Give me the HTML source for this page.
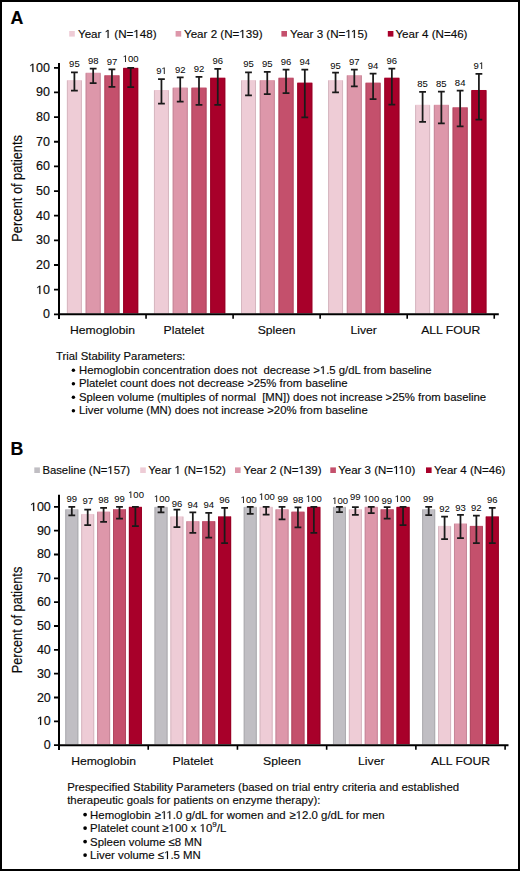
<!DOCTYPE html>
<html><head><meta charset="utf-8"><style>
html,body{margin:0;padding:0;background:#fff;}
.fr{position:absolute;left:0;top:0;width:516px;height:867px;border:2px solid #000;background:#fff;}
svg{position:absolute;left:0;top:0;}
text{font-family:"Liberation Sans", sans-serif;fill:#0a0a0a;stroke:#0a0a0a;stroke-width:0.15px;}
.p{font-size:17.8px;font-weight:bold;fill:#000;}
.l{font-size:11.6px;}
.v{font-size:9.5px;text-anchor:middle;stroke-width:0.05px;}
.t{font-size:11.9px;text-anchor:end;}
.c{font-size:11.6px;text-anchor:middle;}
.yt{font-size:12.8px;text-anchor:middle;}
.d{font-size:11.33px;}
.d2{font-size:11.4px;}
.o{fill-opacity:0;stroke-opacity:0;}
</style></head><body>
<div class="fr"></div>
<svg width="520" height="871" viewBox="0 0 520 871">
<text x="10.5" y="23.6" class="p">A</text>
<rect x="69.2" y="31" width="5.6" height="5.6" fill="#eeccd6"/>
<text x="78" y="37.8" class="l">Year <tspan class="o">1</tspan> (N=<tspan class="o">1</tspan>48)</text>
<rect x="175.6" y="31" width="5.6" height="5.6" fill="#dd97aa"/>
<text x="184" y="37.8" class="l">Year 2 (N=<tspan class="o">1</tspan>39)</text>
<rect x="281.4" y="31" width="5.6" height="5.6" fill="#c4506c"/>
<text x="290" y="37.8" class="l">Year 3 (N=<tspan class="o">1</tspan><tspan class="o">1</tspan>5)</text>
<rect x="387.8" y="31" width="5.6" height="5.6" fill="#a8002a"/>
<text x="395.4" y="37.8" class="l">Year 4 (N=46)</text>
<rect x="66.9" y="80.13" width="15" height="233.17" fill="#eeccd6"/>
<path d="M67.4 80.63V313.3M81.4 80.63V313.3" stroke="#d6b7c0" stroke-width="1" fill="none"/>
<rect x="85.67" y="72.73" width="15" height="240.57" fill="#dd97aa"/>
<path d="M86.17 73.23V313.3M100.17 73.23V313.3" stroke="#c68799" stroke-width="1" fill="none"/>
<rect x="104.44" y="75.2" width="15" height="238.1" fill="#c4506c"/>
<path d="M104.94 75.7V313.3M118.94 75.7V313.3" stroke="#b04861" stroke-width="1" fill="none"/>
<rect x="123.21" y="67.8" width="15" height="245.5" fill="#a8002a"/>
<path d="M123.71 68.3V313.3M137.71 68.3V313.3" stroke="#970025" stroke-width="1" fill="none"/>
<rect x="153.95" y="89.99" width="15" height="223.31" fill="#eeccd6"/>
<path d="M154.45 90.49V313.3M168.45 90.49V313.3" stroke="#d6b7c0" stroke-width="1" fill="none"/>
<rect x="172.72" y="87.52" width="15" height="225.78" fill="#dd97aa"/>
<path d="M173.22 88.02V313.3M187.22 88.02V313.3" stroke="#c68799" stroke-width="1" fill="none"/>
<rect x="191.49" y="87.52" width="15" height="225.78" fill="#c4506c"/>
<path d="M191.99 88.02V313.3M205.99 88.02V313.3" stroke="#b04861" stroke-width="1" fill="none"/>
<rect x="210.26" y="77.66" width="15" height="235.64" fill="#a8002a"/>
<path d="M210.76 78.16V313.3M224.76 78.16V313.3" stroke="#970025" stroke-width="1" fill="none"/>
<rect x="241" y="80.13" width="15" height="233.17" fill="#eeccd6"/>
<path d="M241.5 80.63V313.3M255.5 80.63V313.3" stroke="#d6b7c0" stroke-width="1" fill="none"/>
<rect x="259.77" y="80.13" width="15" height="233.17" fill="#dd97aa"/>
<path d="M260.27 80.63V313.3M274.27 80.63V313.3" stroke="#c68799" stroke-width="1" fill="none"/>
<rect x="278.54" y="77.66" width="15" height="235.64" fill="#c4506c"/>
<path d="M279.04 78.16V313.3M293.04 78.16V313.3" stroke="#b04861" stroke-width="1" fill="none"/>
<rect x="297.31" y="82.59" width="15" height="230.71" fill="#a8002a"/>
<path d="M297.81 83.09V313.3M311.81 83.09V313.3" stroke="#970025" stroke-width="1" fill="none"/>
<rect x="328.05" y="80.13" width="15" height="233.17" fill="#eeccd6"/>
<path d="M328.55 80.63V313.3M342.55 80.63V313.3" stroke="#d6b7c0" stroke-width="1" fill="none"/>
<rect x="346.82" y="75.2" width="15" height="238.1" fill="#dd97aa"/>
<path d="M347.32 75.7V313.3M361.32 75.7V313.3" stroke="#c68799" stroke-width="1" fill="none"/>
<rect x="365.59" y="82.59" width="15" height="230.71" fill="#c4506c"/>
<path d="M366.09 83.09V313.3M380.09 83.09V313.3" stroke="#b04861" stroke-width="1" fill="none"/>
<rect x="384.36" y="77.66" width="15" height="235.64" fill="#a8002a"/>
<path d="M384.86 78.16V313.3M398.86 78.16V313.3" stroke="#970025" stroke-width="1" fill="none"/>
<rect x="415.1" y="104.78" width="15" height="208.52" fill="#eeccd6"/>
<path d="M415.6 105.28V313.3M429.6 105.28V313.3" stroke="#d6b7c0" stroke-width="1" fill="none"/>
<rect x="433.87" y="104.78" width="15" height="208.52" fill="#dd97aa"/>
<path d="M434.37 105.28V313.3M448.37 105.28V313.3" stroke="#c68799" stroke-width="1" fill="none"/>
<rect x="452.64" y="107.24" width="15" height="206.06" fill="#c4506c"/>
<path d="M453.14 107.74V313.3M467.14 107.74V313.3" stroke="#b04861" stroke-width="1" fill="none"/>
<rect x="471.41" y="89.99" width="15" height="223.31" fill="#a8002a"/>
<path d="M471.91 90.49V313.3M485.91 90.49V313.3" stroke="#970025" stroke-width="1" fill="none"/>
<path d="M74.4 72.48V90.72M71 72.48H77.8M71 90.72H77.8" stroke="#1a1a1a" stroke-width="1.75" fill="none"/>
<text x="74.4" y="67.2" class="v">95</text>
<path d="M93.17 68.54V83.08M89.77 68.54H96.57M89.77 83.08H96.57" stroke="#1a1a1a" stroke-width="1.75" fill="none"/>
<text x="93.17" y="63.9" class="v">98</text>
<path d="M111.94 69.28V86.78M108.54 69.28H115.34M108.54 86.78H115.34" stroke="#1a1a1a" stroke-width="1.75" fill="none"/>
<text x="111.94" y="64.7" class="v">97</text>
<path d="M130.71 67.8V87.03M127.31 67.8H134.11M127.31 87.03H134.11" stroke="#1a1a1a" stroke-width="1.75" fill="none"/>
<text x="130.71" y="62.2" class="v"><tspan class="o">1</tspan>00</text>
<path d="M161.45 79.14V103.54M158.05 79.14H164.85M158.05 103.54H164.85" stroke="#1a1a1a" stroke-width="1.75" fill="none"/>
<text x="161.45" y="73.8" class="v">9<tspan class="o">1</tspan></text>
<path d="M180.22 77.41V101.57M176.82 77.41H183.62M176.82 101.57H183.62" stroke="#1a1a1a" stroke-width="1.75" fill="none"/>
<text x="180.22" y="72.7" class="v">92</text>
<path d="M198.99 76.92V104.78M195.59 76.92H202.39M195.59 104.78H202.39" stroke="#1a1a1a" stroke-width="1.75" fill="none"/>
<text x="198.99" y="72.2" class="v">92</text>
<path d="M217.76 68.79V104.78M214.36 68.79H221.16M214.36 104.78H221.16" stroke="#1a1a1a" stroke-width="1.75" fill="none"/>
<text x="217.76" y="63.6" class="v">96</text>
<path d="M248.5 72.48V95.41M245.1 72.48H251.9M245.1 95.41H251.9" stroke="#1a1a1a" stroke-width="1.75" fill="none"/>
<text x="248.5" y="67.2" class="v">95</text>
<path d="M267.27 71.99V94.18M263.87 71.99H270.67M263.87 94.18H270.67" stroke="#1a1a1a" stroke-width="1.75" fill="none"/>
<text x="267.27" y="67.2" class="v">95</text>
<path d="M286.04 69.53V93.19M282.64 69.53H289.44M282.64 93.19H289.44" stroke="#1a1a1a" stroke-width="1.75" fill="none"/>
<text x="286.04" y="64.9" class="v">96</text>
<path d="M304.81 69.53V117.35M301.41 69.53H308.21M301.41 117.35H308.21" stroke="#1a1a1a" stroke-width="1.75" fill="none"/>
<text x="304.81" y="64.7" class="v">94</text>
<path d="M335.55 72.73V92.45M332.15 72.73H338.95M332.15 92.45H338.95" stroke="#1a1a1a" stroke-width="1.75" fill="none"/>
<text x="335.55" y="68.5" class="v">95</text>
<path d="M354.32 69.53V86.29M350.92 69.53H357.72M350.92 86.29H357.72" stroke="#1a1a1a" stroke-width="1.75" fill="none"/>
<text x="354.32" y="64.9" class="v">97</text>
<path d="M373.09 73.72V99.11M369.69 73.72H376.49M369.69 99.11H376.49" stroke="#1a1a1a" stroke-width="1.75" fill="none"/>
<text x="373.09" y="69.4" class="v">94</text>
<path d="M391.86 68.54V104.53M388.46 68.54H395.26M388.46 104.53H395.26" stroke="#1a1a1a" stroke-width="1.75" fill="none"/>
<text x="391.86" y="63.9" class="v">96</text>
<path d="M422.6 91.96V121.78M419.2 91.96H426M419.2 121.78H426" stroke="#1a1a1a" stroke-width="1.75" fill="none"/>
<text x="422.6" y="86.8" class="v">85</text>
<path d="M441.37 91.71V123.26M437.97 91.71H444.77M437.97 123.26H444.77" stroke="#1a1a1a" stroke-width="1.75" fill="none"/>
<text x="441.37" y="86.8" class="v">85</text>
<path d="M460.14 90.72V126.47M456.74 90.72H463.54M456.74 126.47H463.54" stroke="#1a1a1a" stroke-width="1.75" fill="none"/>
<text x="460.14" y="86" class="v">84</text>
<path d="M478.91 73.96V119.57M475.51 73.96H482.31M475.51 119.57H482.31" stroke="#1a1a1a" stroke-width="1.75" fill="none"/>
<text x="478.91" y="69.1" class="v">9<tspan class="o">1</tspan></text>
<path d="M59 63.1V319.1" stroke="#000" stroke-width="2" fill="none"/>
<path d="M58 314.3H498.8" stroke="#000" stroke-width="2" fill="none"/>
<path d="M54 314.3H59M54 289.65H59M54 265H59M54 240.35H59M54 215.7H59M54 191.05H59M54 166.4H59M54 141.75H59M54 117.1H59M54 92.45H59M54 67.8H59" stroke="#000" stroke-width="1.8" fill="none"/>
<path d="M146.05 314.3V318.8M233.1 314.3V318.8M320.15 314.3V318.8M407.2 314.3V318.8M494.25 314.3V318.8" stroke="#000" stroke-width="1.6" fill="none"/>
<text transform="translate(50 318.3) scale(1.05 1)" class="t">0</text>
<text transform="translate(50 293.65) scale(1.05 1)" class="t"><tspan class="o">1</tspan>0</text>
<text transform="translate(50 269) scale(1.05 1)" class="t">20</text>
<text transform="translate(50 244.35) scale(1.05 1)" class="t">30</text>
<text transform="translate(50 219.7) scale(1.05 1)" class="t">40</text>
<text transform="translate(50 195.05) scale(1.05 1)" class="t">50</text>
<text transform="translate(50 170.4) scale(1.05 1)" class="t">60</text>
<text transform="translate(50 145.75) scale(1.05 1)" class="t">70</text>
<text transform="translate(50 121.1) scale(1.05 1)" class="t">80</text>
<text transform="translate(50 96.45) scale(1.05 1)" class="t">90</text>
<text transform="translate(50 71.8) scale(1.05 1)" class="t"><tspan class="o">1</tspan>00</text>
<text transform="translate(102.53 333.8) scale(1.05 1)" class="c">Hemoglobin</text>
<text transform="translate(183.88 333.8) scale(1.05 1)" class="c">Platelet</text>
<text transform="translate(276.62 333.8) scale(1.05 1)" class="c">Spleen</text>
<text transform="translate(363.68 333.8) scale(1.05 1)" class="c">Liver</text>
<text transform="translate(450.72 333.8) scale(1.05 1)" class="c">ALL FOUR</text>
<text transform="translate(21.6 188.4) rotate(-90) scale(1 1.1)" class="yt">Percent of patients</text>
<text x="10.5" y="455.4" class="p">B</text>
<rect x="34.3" y="467.4" width="5.6" height="5.6" fill="#c0bec3"/>
<text x="42.4" y="474.1" class="l" style="font-size:11.3px">Baseline (N=<tspan class="o">1</tspan>57)</text>
<rect x="140.2" y="467.4" width="5.6" height="5.6" fill="#eeccd6"/>
<text x="148.2" y="474.1" class="l" style="font-size:11.45px">Year <tspan class="o">1</tspan> (N=<tspan class="o">1</tspan>52)</text>
<rect x="235" y="467.4" width="5.6" height="5.6" fill="#dd97aa"/>
<text x="243.6" y="474.1" class="l" style="font-size:11.5px">Year 2 (N=<tspan class="o">1</tspan>39)</text>
<rect x="330.3" y="467.4" width="5.6" height="5.6" fill="#c4506c"/>
<text x="338.2" y="474.1" class="l" style="font-size:11.5px">Year 3 (N=<tspan class="o">1</tspan><tspan class="o">1</tspan>0)</text>
<rect x="426" y="467.4" width="5.6" height="5.6" fill="#a8002a"/>
<text x="433.9" y="474.1" class="l" style="font-size:11.5px">Year 4 (N=46)</text>
<rect x="65.3" y="509.18" width="13" height="235.02" fill="#c0bec3"/>
<path d="M65.8 509.68V744.2M77.8 509.68V744.2" stroke="#acabaf" stroke-width="1" fill="none"/>
<rect x="81.2" y="513.95" width="13" height="230.25" fill="#eeccd6"/>
<path d="M81.7 514.45V744.2M93.7 514.45V744.2" stroke="#d6b7c0" stroke-width="1" fill="none"/>
<rect x="97.1" y="511.57" width="13" height="232.63" fill="#dd97aa"/>
<path d="M97.6 512.07V744.2M109.6 512.07V744.2" stroke="#c68799" stroke-width="1" fill="none"/>
<rect x="113" y="509.18" width="13" height="235.02" fill="#c4506c"/>
<path d="M113.5 509.68V744.2M125.5 509.68V744.2" stroke="#b04861" stroke-width="1" fill="none"/>
<rect x="128.9" y="506.8" width="13" height="237.4" fill="#a8002a"/>
<path d="M129.4 507.3V744.2M141.4 507.3V744.2" stroke="#970025" stroke-width="1" fill="none"/>
<rect x="154.52" y="506.8" width="13" height="237.4" fill="#c0bec3"/>
<path d="M155.02 507.3V744.2M167.02 507.3V744.2" stroke="#acabaf" stroke-width="1" fill="none"/>
<rect x="170.42" y="516.34" width="13" height="227.86" fill="#eeccd6"/>
<path d="M170.92 516.84V744.2M182.92 516.84V744.2" stroke="#d6b7c0" stroke-width="1" fill="none"/>
<rect x="186.32" y="521.1" width="13" height="223.1" fill="#dd97aa"/>
<path d="M186.82 521.6V744.2M198.82 521.6V744.2" stroke="#c68799" stroke-width="1" fill="none"/>
<rect x="202.22" y="521.1" width="13" height="223.1" fill="#c4506c"/>
<path d="M202.72 521.6V744.2M214.72 521.6V744.2" stroke="#b04861" stroke-width="1" fill="none"/>
<rect x="218.12" y="516.34" width="13" height="227.86" fill="#a8002a"/>
<path d="M218.62 516.84V744.2M230.62 516.84V744.2" stroke="#970025" stroke-width="1" fill="none"/>
<rect x="243.74" y="506.8" width="13" height="237.4" fill="#c0bec3"/>
<path d="M244.24 507.3V744.2M256.24 507.3V744.2" stroke="#acabaf" stroke-width="1" fill="none"/>
<rect x="259.64" y="506.8" width="13" height="237.4" fill="#eeccd6"/>
<path d="M260.14 507.3V744.2M272.14 507.3V744.2" stroke="#d6b7c0" stroke-width="1" fill="none"/>
<rect x="275.54" y="509.18" width="13" height="235.02" fill="#dd97aa"/>
<path d="M276.04 509.68V744.2M288.04 509.68V744.2" stroke="#c68799" stroke-width="1" fill="none"/>
<rect x="291.44" y="511.57" width="13" height="232.63" fill="#c4506c"/>
<path d="M291.94 512.07V744.2M303.94 512.07V744.2" stroke="#b04861" stroke-width="1" fill="none"/>
<rect x="307.34" y="506.8" width="13" height="237.4" fill="#a8002a"/>
<path d="M307.84 507.3V744.2M319.84 507.3V744.2" stroke="#970025" stroke-width="1" fill="none"/>
<rect x="332.96" y="506.8" width="13" height="237.4" fill="#c0bec3"/>
<path d="M333.46 507.3V744.2M345.46 507.3V744.2" stroke="#acabaf" stroke-width="1" fill="none"/>
<rect x="348.86" y="509.18" width="13" height="235.02" fill="#eeccd6"/>
<path d="M349.36 509.68V744.2M361.36 509.68V744.2" stroke="#d6b7c0" stroke-width="1" fill="none"/>
<rect x="364.76" y="506.8" width="13" height="237.4" fill="#dd97aa"/>
<path d="M365.26 507.3V744.2M377.26 507.3V744.2" stroke="#c68799" stroke-width="1" fill="none"/>
<rect x="380.66" y="509.18" width="13" height="235.02" fill="#c4506c"/>
<path d="M381.16 509.68V744.2M393.16 509.68V744.2" stroke="#b04861" stroke-width="1" fill="none"/>
<rect x="396.56" y="506.8" width="13" height="237.4" fill="#a8002a"/>
<path d="M397.06 507.3V744.2M409.06 507.3V744.2" stroke="#970025" stroke-width="1" fill="none"/>
<rect x="422.18" y="509.18" width="13" height="235.02" fill="#c0bec3"/>
<path d="M422.68 509.68V744.2M434.68 509.68V744.2" stroke="#acabaf" stroke-width="1" fill="none"/>
<rect x="438.08" y="525.87" width="13" height="218.33" fill="#eeccd6"/>
<path d="M438.58 526.37V744.2M450.58 526.37V744.2" stroke="#d6b7c0" stroke-width="1" fill="none"/>
<rect x="453.98" y="523.49" width="13" height="220.71" fill="#dd97aa"/>
<path d="M454.48 523.99V744.2M466.48 523.99V744.2" stroke="#c68799" stroke-width="1" fill="none"/>
<rect x="469.88" y="525.87" width="13" height="218.33" fill="#c4506c"/>
<path d="M470.38 526.37V744.2M482.38 526.37V744.2" stroke="#b04861" stroke-width="1" fill="none"/>
<rect x="485.78" y="516.34" width="13" height="227.86" fill="#a8002a"/>
<path d="M486.28 516.84V744.2M498.28 516.84V744.2" stroke="#970025" stroke-width="1" fill="none"/>
<path d="M71.8 506.8V515.38M68.4 506.8H75.2M68.4 515.38H75.2" stroke="#1a1a1a" stroke-width="1.75" fill="none"/>
<text x="71.8" y="502" class="v">99</text>
<path d="M87.7 509.66V525.16M84.3 509.66H91.1M84.3 525.16H91.1" stroke="#1a1a1a" stroke-width="1.75" fill="none"/>
<text x="87.7" y="504.2" class="v">97</text>
<path d="M103.6 507.75V521.82M100.2 507.75H107M100.2 521.82H107" stroke="#1a1a1a" stroke-width="1.75" fill="none"/>
<text x="103.6" y="502.5" class="v">98</text>
<path d="M119.5 506.8V518.72M116.1 506.8H122.9M116.1 518.72H122.9" stroke="#1a1a1a" stroke-width="1.75" fill="none"/>
<text x="119.5" y="502" class="v">99</text>
<path d="M135.4 506.8V526.11M132 506.8H138.8M132 526.11H138.8" stroke="#1a1a1a" stroke-width="1.75" fill="none"/>
<text x="136" y="498.2" class="v"><tspan class="o">1</tspan>00</text>
<path d="M161.02 506.8V512.28M157.62 506.8H164.42M157.62 512.28H164.42" stroke="#1a1a1a" stroke-width="1.75" fill="none"/>
<text x="161.82" y="501.6" class="v"><tspan class="o">1</tspan>00</text>
<path d="M176.92 509.66V527.06M173.52 509.66H180.32M173.52 527.06H180.32" stroke="#1a1a1a" stroke-width="1.75" fill="none"/>
<text x="176.92" y="506.5" class="v">96</text>
<path d="M192.82 512.28V532.79M189.42 512.28H196.22M189.42 532.79H196.22" stroke="#1a1a1a" stroke-width="1.75" fill="none"/>
<text x="192.82" y="507.8" class="v">94</text>
<path d="M208.72 512.76V537.55M205.32 512.76H212.12M205.32 537.55H212.12" stroke="#1a1a1a" stroke-width="1.75" fill="none"/>
<text x="208.72" y="507.5" class="v">94</text>
<path d="M224.62 507.99V543.04M221.22 507.99H228.02M221.22 543.04H228.02" stroke="#1a1a1a" stroke-width="1.75" fill="none"/>
<text x="224.62" y="503.2" class="v">96</text>
<path d="M250.24 506.8V513.95M246.84 506.8H253.64M246.84 513.95H253.64" stroke="#1a1a1a" stroke-width="1.75" fill="none"/>
<text x="248.54" y="503.2" class="v"><tspan class="o">1</tspan>00</text>
<path d="M266.14 506.8V514.67M262.74 506.8H269.54M262.74 514.67H269.54" stroke="#1a1a1a" stroke-width="1.75" fill="none"/>
<text x="266.84" y="500.4" class="v"><tspan class="o">1</tspan>00</text>
<path d="M282.04 506.8V519.44M278.64 506.8H285.44M278.64 519.44H285.44" stroke="#1a1a1a" stroke-width="1.75" fill="none"/>
<text x="282.84" y="502" class="v">99</text>
<path d="M297.94 507.28V527.3M294.54 507.28H301.34M294.54 527.3H301.34" stroke="#1a1a1a" stroke-width="1.75" fill="none"/>
<text x="297.94" y="502.5" class="v">98</text>
<path d="M313.84 506.8V532.79M310.44 506.8H317.24M310.44 532.79H317.24" stroke="#1a1a1a" stroke-width="1.75" fill="none"/>
<text x="313.84" y="501.6" class="v"><tspan class="o">1</tspan>00</text>
<path d="M339.46 506.8V512.04M336.06 506.8H342.86M336.06 512.04H342.86" stroke="#1a1a1a" stroke-width="1.75" fill="none"/>
<text x="340.06" y="503.7" class="v"><tspan class="o">1</tspan>00</text>
<path d="M355.36 507.04V514.91M351.96 507.04H358.76M351.96 514.91H358.76" stroke="#1a1a1a" stroke-width="1.75" fill="none"/>
<text x="355.36" y="499.6" class="v">99</text>
<path d="M371.26 506.8V513M367.86 506.8H374.66M367.86 513H374.66" stroke="#1a1a1a" stroke-width="1.75" fill="none"/>
<text x="371.26" y="501.6" class="v"><tspan class="o">1</tspan>00</text>
<path d="M387.16 507.04V518.72M383.76 507.04H390.56M383.76 518.72H390.56" stroke="#1a1a1a" stroke-width="1.75" fill="none"/>
<text x="386.76" y="504.2" class="v">99</text>
<path d="M403.06 506.8V525.16M399.66 506.8H406.46M399.66 525.16H406.46" stroke="#1a1a1a" stroke-width="1.75" fill="none"/>
<text x="402.66" y="501.6" class="v"><tspan class="o">1</tspan>00</text>
<path d="M428.68 506.8V515.14M425.28 506.8H432.08M425.28 515.14H432.08" stroke="#1a1a1a" stroke-width="1.75" fill="none"/>
<text x="428.18" y="501.8" class="v">99</text>
<path d="M444.58 516.57V539.22M441.18 516.57H447.98M441.18 539.22H447.98" stroke="#1a1a1a" stroke-width="1.75" fill="none"/>
<text x="444.58" y="511.6" class="v">92</text>
<path d="M460.48 514.91V538.03M457.08 514.91H463.88M457.08 538.03H463.88" stroke="#1a1a1a" stroke-width="1.75" fill="none"/>
<text x="460.48" y="510.5" class="v">93</text>
<path d="M476.38 515.62V543.04M472.98 515.62H479.78M472.98 543.04H479.78" stroke="#1a1a1a" stroke-width="1.75" fill="none"/>
<text x="476.38" y="511.1" class="v">92</text>
<path d="M492.28 507.99V543.04M488.88 507.99H495.68M488.88 543.04H495.68" stroke="#1a1a1a" stroke-width="1.75" fill="none"/>
<text x="492.28" y="503.1" class="v">96</text>
<path d="M59 494.8V750" stroke="#000" stroke-width="2" fill="none"/>
<path d="M58 745.2H508.5" stroke="#000" stroke-width="2" fill="none"/>
<path d="M54 745.2H59M54 721.36H59M54 697.52H59M54 673.68H59M54 649.84H59M54 626H59M54 602.16H59M54 578.32H59M54 554.48H59M54 530.64H59M54 506.8H59" stroke="#000" stroke-width="1.8" fill="none"/>
<path d="M148.22 745.2V749.7M237.44 745.2V749.7M326.66 745.2V749.7M415.88 745.2V749.7M505.1 745.2V749.7" stroke="#000" stroke-width="1.6" fill="none"/>
<text transform="translate(50.8 749.2) scale(1.05 1)" class="t">0</text>
<text transform="translate(50.8 725.36) scale(1.05 1)" class="t"><tspan class="o">1</tspan>0</text>
<text transform="translate(50.8 701.52) scale(1.05 1)" class="t">20</text>
<text transform="translate(50.8 677.68) scale(1.05 1)" class="t">30</text>
<text transform="translate(50.8 653.84) scale(1.05 1)" class="t">40</text>
<text transform="translate(50.8 630) scale(1.05 1)" class="t">50</text>
<text transform="translate(50.8 606.16) scale(1.05 1)" class="t">60</text>
<text transform="translate(50.8 582.32) scale(1.05 1)" class="t">70</text>
<text transform="translate(50.8 558.48) scale(1.05 1)" class="t">80</text>
<text transform="translate(50.8 534.64) scale(1.05 1)" class="t">90</text>
<text transform="translate(50.8 510.8) scale(1.05 1)" class="t"><tspan class="o">1</tspan>00</text>
<text transform="translate(103.61 764.9) scale(1.05 1)" class="c">Hemoglobin</text>
<text transform="translate(192.83 764.9) scale(1.05 1)" class="c">Platelet</text>
<text transform="translate(282.05 764.9) scale(1.05 1)" class="c">Spleen</text>
<text transform="translate(371.27 764.9) scale(1.05 1)" class="c">Liver</text>
<text transform="translate(460.49 764.9) scale(1.05 1)" class="c">ALL FOUR</text>
<text transform="translate(21.6 620) rotate(-90) scale(1 1.1)" class="yt">Percent of patients</text>
<text x="56" y="360.4" class="d">Trial Stability Parameters:</text>
<circle cx="73.4" cy="370.35" r="1.75" fill="#000"/>
<text x="79" y="373.85" class="d">Hemoglobin concentration does not&#160; decrease &gt;<tspan class="o">1</tspan>.5 g/dL from baseline</text>
<circle cx="73.4" cy="383.8" r="1.75" fill="#000"/>
<text x="79" y="387.3" class="d">Platelet count does not decrease &gt;25% from baseline</text>
<circle cx="73.4" cy="397.25" r="1.75" fill="#000"/>
<text x="79" y="400.75" class="d">Spleen volume (multiples of normal&#160; [MN]) does not increase &gt;25% from baseline</text>
<circle cx="73.4" cy="410.7" r="1.75" fill="#000"/>
<text x="79" y="414.2" class="d">Liver volume (MN) does not increase &gt;20% from baseline</text>
<text x="67.2" y="790.9" class="d d2">Prespecified Stability Parameters (based on trial entry criteria and established</text>
<text x="67.2" y="804.4" class="d d2">therapeutic goals for patients on enzyme therapy):</text>
<circle cx="85.1" cy="814.6" r="1.85" fill="#000"/>
<text x="90.1" y="818.5" class="d d2">Hemoglobin <tspan dx="0.6">&#8805;</tspan><tspan class="o">1</tspan><tspan class="o">1</tspan>.0 g/dL for women and <tspan dx="0.6">&#8805;</tspan><tspan class="o">1</tspan>2.0 g/dL for men</text>
<circle cx="85.1" cy="828.1" r="1.85" fill="#000"/>
<text x="90.1" y="832" class="d d2">Platelet count &#8805;<tspan class="o">1</tspan>00 x <tspan class="o">1</tspan>0<tspan dy="-4.6" font-size="8px">9</tspan><tspan dy="4.6">/L</tspan></text>
<circle cx="85.1" cy="841.6" r="1.85" fill="#000"/>
<text x="90.1" y="845.5" class="d d2">Spleen volume &#8804;8 MN</text>
<circle cx="85.1" cy="855.1" r="1.85" fill="#000"/>
<text x="90.1" y="859" class="d d2">Liver volume &#8804;<tspan class="o">1</tspan>.5 MN</text>
<g fill="#0a0a0a" stroke="#0a0a0a"><path d="M515 0V1237L197 1010V1180L530 1409H696V0Z" transform="translate(104.656 38.000) scale(0.00566 -0.00566)" stroke-width="0.15" vector-effect="non-scaling-stroke"/><path d="M515 0V1237L197 1010V1180L530 1409H696V0Z" transform="translate(133.344 38.000) scale(0.00566 -0.00566)" stroke-width="0.15" vector-effect="non-scaling-stroke"/><path d="M515 0V1237L197 1010V1180L530 1409H696V0Z" transform="translate(239.328 38.000) scale(0.00566 -0.00566)" stroke-width="0.15" vector-effect="non-scaling-stroke"/><path d="M515 0V1237L197 1010V1180L530 1409H696V0Z" transform="translate(345.328 38.000) scale(0.00566 -0.00566)" stroke-width="0.15" vector-effect="non-scaling-stroke"/><path d="M515 0V1237L197 1010V1180L530 1409H696V0Z" transform="translate(350.922 38.000) scale(0.00566 -0.00566)" stroke-width="0.15" vector-effect="non-scaling-stroke"/><path d="M515 0V1237L197 1010V1180L530 1409H696V0Z" transform="translate(122.773 62.000) scale(0.00464 -0.00464)" stroke-width="0.05" vector-effect="non-scaling-stroke"/><path d="M515 0V1237L197 1010V1180L530 1409H696V0Z" transform="translate(161.450 74.000) scale(0.00464 -0.00464)" stroke-width="0.05" vector-effect="non-scaling-stroke"/><path d="M515 0V1237L197 1010V1180L530 1409H696V0Z" transform="translate(478.910 69.000) scale(0.00464 -0.00464)" stroke-width="0.05" vector-effect="non-scaling-stroke"/><path d="M515 0V1237L197 1010V1180L530 1409H696V0Z" transform="matrix(1.05000 0.00000 0.00000 1.00000 50.000 293.650) translate(-13.228 0.350) scale(0.00581 -0.00581)" stroke-width="0.15" vector-effect="non-scaling-stroke"/><path d="M515 0V1237L197 1010V1180L530 1409H696V0Z" transform="matrix(1.05000 0.00000 0.00000 1.00000 50.000 71.800) translate(-19.842 0.200) scale(0.00581 -0.00581)" stroke-width="0.15" vector-effect="non-scaling-stroke"/><path d="M515 0V1237L197 1010V1180L530 1409H696V0Z" transform="translate(107.400 474.000) scale(0.00552 -0.00552)" stroke-width="0.15" vector-effect="non-scaling-stroke"/><path d="M515 0V1237L197 1010V1180L530 1409H696V0Z" transform="translate(174.497 474.000) scale(0.00559 -0.00559)" stroke-width="0.15" vector-effect="non-scaling-stroke"/><path d="M515 0V1237L197 1010V1180L530 1409H696V0Z" transform="translate(202.809 474.000) scale(0.00559 -0.00559)" stroke-width="0.15" vector-effect="non-scaling-stroke"/><path d="M515 0V1237L197 1010V1180L530 1409H696V0Z" transform="translate(298.475 474.000) scale(0.00562 -0.00562)" stroke-width="0.15" vector-effect="non-scaling-stroke"/><path d="M515 0V1237L197 1010V1180L530 1409H696V0Z" transform="translate(393.075 474.000) scale(0.00562 -0.00562)" stroke-width="0.15" vector-effect="non-scaling-stroke"/><path d="M515 0V1237L197 1010V1180L530 1409H696V0Z" transform="translate(398.622 474.000) scale(0.00562 -0.00562)" stroke-width="0.15" vector-effect="non-scaling-stroke"/><path d="M515 0V1237L197 1010V1180L530 1409H696V0Z" transform="translate(128.062 498.000) scale(0.00464 -0.00464)" stroke-width="0.05" vector-effect="non-scaling-stroke"/><path d="M515 0V1237L197 1010V1180L530 1409H696V0Z" transform="translate(153.883 502.000) scale(0.00464 -0.00464)" stroke-width="0.05" vector-effect="non-scaling-stroke"/><path d="M515 0V1237L197 1010V1180L530 1409H696V0Z" transform="translate(240.603 503.000) scale(0.00464 -0.00464)" stroke-width="0.05" vector-effect="non-scaling-stroke"/><path d="M515 0V1237L197 1010V1180L530 1409H696V0Z" transform="translate(258.902 500.000) scale(0.00464 -0.00464)" stroke-width="0.05" vector-effect="non-scaling-stroke"/><path d="M515 0V1237L197 1010V1180L530 1409H696V0Z" transform="translate(305.902 502.000) scale(0.00464 -0.00464)" stroke-width="0.05" vector-effect="non-scaling-stroke"/><path d="M515 0V1237L197 1010V1180L530 1409H696V0Z" transform="translate(332.122 504.000) scale(0.00464 -0.00464)" stroke-width="0.05" vector-effect="non-scaling-stroke"/><path d="M515 0V1237L197 1010V1180L530 1409H696V0Z" transform="translate(363.323 502.000) scale(0.00464 -0.00464)" stroke-width="0.05" vector-effect="non-scaling-stroke"/><path d="M515 0V1237L197 1010V1180L530 1409H696V0Z" transform="translate(394.723 502.000) scale(0.00464 -0.00464)" stroke-width="0.05" vector-effect="non-scaling-stroke"/><path d="M515 0V1237L197 1010V1180L530 1409H696V0Z" transform="matrix(1.05000 0.00000 0.00000 1.00000 50.800 725.360) translate(-13.228 -0.360) scale(0.00581 -0.00581)" stroke-width="0.15" vector-effect="non-scaling-stroke"/><path d="M515 0V1237L197 1010V1180L530 1409H696V0Z" transform="matrix(1.05000 0.00000 0.00000 1.00000 50.800 510.800) translate(-19.842 0.200) scale(0.00581 -0.00581)" stroke-width="0.15" vector-effect="non-scaling-stroke"/><path d="M515 0V1237L197 1010V1180L530 1409H696V0Z" transform="translate(319.891 374.000) scale(0.00553 -0.00553)" stroke-width="0.15" vector-effect="non-scaling-stroke"/><path d="M515 0V1237L197 1010V1180L530 1409H696V0Z" transform="translate(160.919 819.000) scale(0.00557 -0.00557)" stroke-width="0.15" vector-effect="non-scaling-stroke"/><path d="M515 0V1237L197 1010V1180L530 1409H696V0Z" transform="translate(166.419 819.000) scale(0.00557 -0.00557)" stroke-width="0.15" vector-effect="non-scaling-stroke"/><path d="M515 0V1237L197 1010V1180L530 1409H696V0Z" transform="translate(295.722 819.000) scale(0.00557 -0.00557)" stroke-width="0.15" vector-effect="non-scaling-stroke"/><path d="M515 0V1237L197 1010V1180L530 1409H696V0Z" transform="translate(168.553 832.000) scale(0.00557 -0.00557)" stroke-width="0.15" vector-effect="non-scaling-stroke"/><path d="M515 0V1237L197 1010V1180L530 1409H696V0Z" transform="translate(199.600 832.000) scale(0.00557 -0.00557)" stroke-width="0.15" vector-effect="non-scaling-stroke"/><path d="M515 0V1237L197 1010V1180L530 1409H696V0Z" transform="translate(164.100 859.000) scale(0.00557 -0.00557)" stroke-width="0.15" vector-effect="non-scaling-stroke"/></g>
</svg>
</body></html>
